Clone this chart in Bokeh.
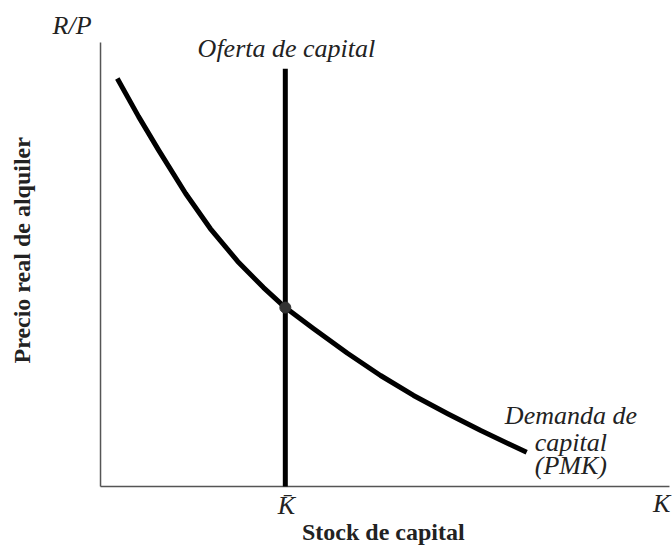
import math
from bokeh.plotting import figure
from bokeh.models import Label, Range1d
from bokeh.embed import file_html
from bokeh.resources import INLINE

# Demand curve (marginal product of capital)
curve_k = [0.30, 0.68, 1.04, 1.52, 1.96, 2.45, 2.91, 3.30, 3.80, 4.41, 5.00, 5.59, 6.20, 6.79, 7.61]
curve_r = [9.19, 8.33, 7.57, 6.60, 5.81, 5.07, 4.48, 4.03, 3.56, 3.00, 2.50, 2.05, 1.64, 1.26, 0.77]

# Supply of capital (vertical at K bar)
k_bar = 3.30
supply_k = [k_bar, k_bar]
supply_r = [0.0, 9.41]

# Equilibrium point
eq_k = [k_bar]
eq_r = [4.03]

# Axes extents
x_axis_k = [0.0, 10.16]
x_axis_r = [0.0, 0.0]
y_axis_k = [0.0, 0.0]
y_axis_r = [0.0, 10.0]

# Texts
label_texts = ["R/P", "Oferta de capital", "Demanda de", "capital", "(PMK)", "K\u0304", "K"]
label_x = [-0.16, 3.32, 8.40, 8.40, 8.40, 3.32, 10.02]
label_y = [10.38, 9.86, 1.60, 0.99, 0.47, -0.43, -0.38]
label_align = ["right", "center", "center", "center", "center", "center", "center"]
x_title = "Stock de capital"
y_title = "Precio real de alquiler"

SERIF = "Liberation Serif"

p = figure(width=672, height=551, output_backend="svg", toolbar_location=None,
           x_range=Range1d(-1.786, 10.214), y_range=Range1d(-1.464, 10.946),
           min_border=0)
p.outline_line_color = None
p.grid.visible = False
p.axis.visible = False
p.background_fill_color = "white"

p.line(x_axis_k, x_axis_r, line_color="#555555", line_width=1.5)
p.line(y_axis_k, y_axis_r, line_color="#555555", line_width=1.5)

p.line(curve_k, curve_r, line_color="black", line_width=5, line_join="round")
p.line(supply_k, supply_r, line_color="black", line_width=5)
p.scatter(eq_k, eq_r, size=11, fill_color="#333333", line_color="#333333")

for t, x, y, a in zip(label_texts, label_x, label_y, label_align):
    p.add_layout(Label(x=x, y=y, text=t, text_align=a, text_baseline="middle",
                       text_font=SERIF, text_font_style="italic", text_font_size="26px",
                       text_color="#222222"))

p.add_layout(Label(x=5.05, y=-1.03, text=x_title, text_align="center", text_baseline="middle",
                   text_font=SERIF, text_font_style="bold", text_font_size="24px",
                   text_color="#222222"))
p.add_layout(Label(x=-1.41, y=5.32, text=y_title, text_align="center", text_baseline="middle",
                   angle=math.pi / 2, text_font=SERIF, text_font_style="bold",
                   text_font_size="24px", text_color="#222222"))

open("out.html", "w").write(file_html(p, INLINE))
